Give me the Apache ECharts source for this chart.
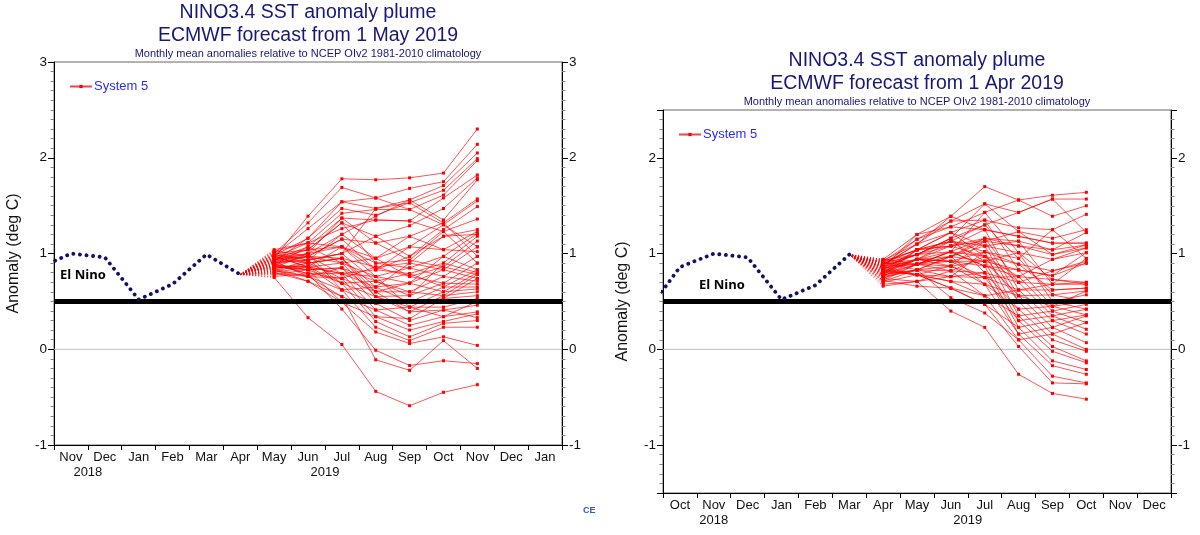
<!DOCTYPE html>
<html><head><meta charset="utf-8">
<script src="https://cdn.jsdelivr.net/npm/echarts@6/dist/echarts.min.js"></script>
<style>html,body{margin:0;padding:0;background:#fff}#c{width:1200px;height:535px}</style>
</head><body><div id="c"></div>
<script>
// ---------- DATA ----------
const leftMonths  = ['Nov','Dec','Jan','Feb','Mar','Apr','May','Jun','Jul','Aug','Sep','Oct','Nov','Dec','Jan'];
const rightMonths = ['Oct','Nov','Dec','Jan','Feb','Mar','Apr','May','Jun','Jul','Aug','Sep','Oct','Nov','Dec'];
const yTicksLeft  = [-1, 0, 1, 2, 3];
const yTicksRight = [-1, 0, 1, 2];

// observed (month index relative to first category; -1 = month before the axis)
const leftObsIdx  = [-1, 0, 1, 2, 3, 4, 5];           // Oct 2018 .. Apr 2019
const leftObs     = [0.84, 1.00, 0.96, 0.52, 0.68, 0.99, 0.78];
const rightObsIdx = [-1, 0, 1, 2, 3, 4, 5];           // Sep 2018 .. Mar 2019
const rightObs    = [0.38, 0.86, 1.00, 0.96, 0.52, 0.67, 0.99];

const leftFcStart  = 6;   // May 2019
const rightFcStart = 6;   // Apr 2019

// ensemble members, left: May..Nov 2019
const leftMembers = [
[0.95,1.39,1.78,1.77,1.79,1.84,2.30],
[1.00,1.32,1.69,1.58,1.68,1.75,2.14],
[0.98,1.26,1.54,1.47,1.56,1.71,2.05],
[0.92,1.16,1.47,1.40,1.53,1.66,1.99],
[1.04,1.11,1.42,1.46,1.46,1.61,1.97],
[0.88,1.07,1.37,1.35,1.34,1.58,1.82],
[0.96,1.04,1.32,1.18,1.29,1.47,1.79],
[0.85,1.00,1.20,1.39,1.56,1.35,1.77],
[0.90,0.97,1.15,1.11,1.18,1.32,1.57],
[1.02,1.11,1.07,0.95,1.07,1.30,1.55],
[0.82,0.93,1.00,1.18,0.97,1.25,1.49],
[0.93,1.04,1.32,0.90,0.93,1.23,1.36],
[0.99,0.90,0.95,0.86,0.90,1.18,1.25],
[0.87,0.86,1.07,0.83,1.07,1.04,1.23],
[0.94,0.97,0.90,0.76,0.85,0.97,1.21],
[0.78,0.83,0.85,0.71,0.79,0.90,1.18],
[1.01,0.93,1.20,0.95,0.76,0.86,1.13],
[0.89,0.79,0.79,0.65,0.69,0.83,1.07],
[0.84,0.76,0.74,0.60,0.60,0.76,0.97],
[0.97,0.86,0.69,0.55,0.56,0.69,0.90],
[0.91,1.00,0.62,0.48,0.49,0.65,0.83],
[0.80,0.71,0.55,0.41,0.44,0.60,0.80],
[0.95,0.90,0.95,0.60,0.39,0.56,0.78],
[0.86,0.83,0.49,0.34,0.32,0.53,0.74],
[0.75,0.33,0.05,-0.44,-0.59,-0.45,-0.37],
[0.88,0.79,0.42,-0.01,-0.17,-0.12,-0.15],
[0.92,0.76,0.55,-0.11,-0.22,0.09,-0.20],
[0.83,0.71,0.49,0.18,0.06,0.13,0.04],
[0.97,0.86,0.62,0.23,0.09,0.23,0.23],
[0.90,0.93,0.69,0.29,0.13,0.27,0.30],
[0.81,0.90,0.74,0.34,0.20,0.29,0.37],
[1.03,0.97,0.79,0.41,0.25,0.34,0.39],
[0.86,0.83,0.85,0.48,0.30,0.41,0.46],
[0.94,1.07,0.90,0.55,0.44,0.44,0.53],
[0.79,0.76,0.62,0.65,0.49,0.53,0.56],
[0.99,0.93,1.00,0.71,0.60,0.56,0.60],
[0.87,0.86,0.79,0.76,0.69,0.60,0.63],
[0.92,0.97,1.15,0.83,0.79,0.65,0.65],
[0.76,0.79,0.74,0.86,0.76,0.69,0.68],
[1.00,1.04,1.07,0.90,0.85,0.76,0.71],
[0.84,0.90,0.95,0.65,0.90,0.83,0.74],
[0.95,1.00,1.37,1.11,0.93,0.86,0.78],
[0.89,0.83,0.69,0.71,0.56,0.90,0.80],
[0.82,0.76,0.85,0.60,0.69,0.97,0.83],
[0.96,1.11,1.26,1.35,1.34,1.23,0.90],
[0.91,0.93,1.00,1.47,1.53,1.32,0.97],
[0.85,0.86,0.90,0.95,1.18,1.04,1.02],
[0.98,1.16,1.54,1.58,1.46,1.30,1.07],
[0.93,1.00,1.07,0.76,0.44,0.34,0.50],
[0.88,0.97,0.95,0.55,0.39,0.41,0.33],
[0.80,0.86,0.79,0.83,0.97,1.18,1.20]
];

// ensemble members, right: Apr..Oct 2019
const rightMembers = [
[0.88,1.10,1.39,1.70,1.56,1.61,1.64],
[0.92,1.15,1.34,1.52,1.43,1.57,1.57],
[0.85,1.20,1.28,1.43,1.56,1.39,1.50],
[0.80,1.04,1.22,1.35,1.27,1.25,1.41],
[0.90,0.99,1.16,1.52,1.23,1.16,1.25],
[0.76,0.94,1.13,1.30,1.43,1.57,1.22],
[0.83,1.04,1.08,1.25,1.18,1.11,1.11],
[0.94,0.89,1.02,1.16,1.13,1.04,1.09],
[0.71,0.83,0.97,1.13,1.08,0.99,1.06],
[0.86,0.99,1.13,1.08,1.01,0.94,1.01],
[0.79,0.94,0.92,1.02,0.95,1.25,0.95],
[0.88,1.10,1.22,0.97,0.89,0.82,0.92],
[0.82,0.78,0.87,0.92,0.83,0.77,0.90],
[0.74,0.89,1.02,0.87,0.76,0.73,0.70],
[0.91,0.83,0.82,0.80,0.70,0.68,0.68],
[0.68,0.71,0.76,0.75,0.62,0.62,0.64],
[0.84,0.94,0.97,0.68,0.56,0.57,0.61],
[0.77,1.04,1.08,0.97,0.50,0.50,0.57],
[0.93,0.99,1.16,0.80,0.42,0.45,0.50],
[0.81,0.78,0.71,0.56,0.35,0.40,0.47],
[0.87,0.89,0.92,0.75,0.30,0.35,0.42],
[0.72,0.66,0.64,0.47,0.23,0.30,0.36],
[0.89,0.94,0.87,0.68,0.16,0.23,0.35],
[0.78,0.83,0.54,0.38,0.10,0.16,0.28],
[0.66,0.71,0.40,0.23,-0.26,-0.46,-0.52],
[0.84,0.78,0.64,0.47,0.03,-0.35,-0.36],
[0.90,0.89,0.82,0.56,0.10,-0.28,-0.35],
[0.75,0.83,0.76,0.80,0.16,-0.17,-0.26],
[0.86,0.99,1.02,0.87,0.23,-0.12,-0.21],
[0.80,0.94,0.92,0.92,0.30,-0.02,-0.14],
[0.92,1.04,1.13,1.02,0.35,0.03,-0.12],
[0.70,0.78,0.71,0.68,0.42,0.10,-0.02],
[0.85,0.89,0.97,1.08,0.50,0.16,0.00],
[0.78,0.83,0.87,1.13,0.56,0.23,0.07],
[0.88,1.15,1.28,1.25,0.62,0.30,0.16],
[0.82,0.94,1.08,1.16,0.70,0.35,0.21],
[0.74,0.71,0.82,0.97,0.76,0.40,0.28],
[0.93,1.10,1.34,1.35,0.83,0.45,0.36],
[0.79,0.89,1.02,1.43,1.01,0.50,0.42],
[0.87,0.99,1.16,1.30,0.95,0.57,0.50],
[0.83,0.78,0.76,1.02,0.89,0.62,0.64],
[0.90,1.04,1.22,1.08,1.13,0.68,0.70],
[0.76,0.83,0.97,0.92,1.01,0.73,0.68],
[0.85,0.94,0.92,0.87,0.83,0.77,1.01],
[0.89,0.99,1.08,1.13,1.23,0.99,1.09],
[0.72,0.89,0.87,0.75,0.76,0.94,1.06],
[0.94,1.20,1.39,1.25,1.18,1.11,1.11],
[0.81,0.94,1.02,0.97,0.70,0.82,0.90],
[0.86,0.78,0.64,0.56,0.62,0.68,0.95],
[0.77,0.89,0.97,1.16,1.08,1.04,1.22],
[0.91,1.04,1.13,0.92,0.56,0.45,0.61]
];

const elNinoThreshold = 0.5;

// ---------- LAYOUT / STYLE ----------
const FONT = 'Liberation Sans, Arial, sans-serif';
const NAVY = '#17177a';
const panels = [
  {left:54,  top:62,  w:508, h:383, ymin:-1,   ymax:3,   months:leftMonths,  obsIdx:leftObsIdx,  obs:leftObs,  fc:leftFcStart,  members:leftMembers,
   title2:'ECMWF forecast from 1 May 2019', years:[['2018',1],['2019',8]], elnino:[6,0.77]},
  {left:663, top:110, w:508, h:383, ymin:-1.5, ymax:2.5, months:rightMonths, obsIdx:rightObsIdx, obs:rightObs, fc:rightFcStart, members:rightMembers,
   title2:'ECMWF forecast from 1 Apr 2019', years:[['2018',1.5],['2019',9]], elnino:[36,0.67]}
];
const NM = 15;

const grids = [], xAxes = [], yAxes = [], series = [], graphics = [], legends = [];
panels.forEach((p, k) => {
  grids.push({left:p.left, top:p.top, width:p.w, height:p.h, show:true, borderColor:'#666', borderWidth:1, backgroundColor:'#fff'});
  // hidden value axis for positioning
  xAxes.push({type:'value', gridIndex:k, min:0, max:NM, show:false});
  // visible category axis for month labels/ticks
  xAxes.push({type:'category', gridIndex:k, data:p.months, position:'bottom', boundaryGap:true,
    axisLine:{onZero:false, lineStyle:{color:'#000', width:1}},
    axisTick:{show:true, inside:false, length:5, interval:0, lineStyle:{color:'#000'}},
    axisLabel:{interval:0, margin:6, color:'#111', fontSize:13, fontFamily:FONT},
    splitLine:{show:false}});
  const yCommon = {type:'value', gridIndex:k, min:p.ymin, max:p.ymax, splitNumber:4,
    axisLine:{show:true, onZero:false, lineStyle:{color:'#000'}},
    axisTick:{show:true, inside:false, length:6, lineStyle:{color:'#000'}},
    minorTick:{show:true, splitNumber:10, length:3.5, lineStyle:{color:'#888'}},
    axisLabel:{color:'#111', fontSize:13.5, fontFamily:FONT, margin:7,
      formatter: v => (Math.abs(v - Math.round(v)) < 1e-6 ? String(Math.round(v)) : '')},
    splitLine:{show:false}};
  if (k === 0) yCommon.interval = 1;
  yAxes.push(Object.assign({}, yCommon, {position:'left', name:'Anomaly (deg C)', nameLocation:'middle', nameGap:32,
    nameRotate:90, nameTextStyle:{fontSize:16, color:'#111', fontFamily:FONT}}));
  yAxes.push(Object.assign({}, yCommon, {position:'right'}));

  const xi = k*2, yi = k*2;
  // zero line
  series.push({type:'line', xAxisIndex:xi, yAxisIndex:yi, data:[[0,0],[NM,0]], symbol:'none', silent:true, z:1,
    lineStyle:{color:'#bdbdbd', width:1}});
  // ensemble forecasts
  p.members.forEach(m => {
    series.push({name:'System 5', type:'line', xAxisIndex:xi, yAxisIndex:yi,
      data:m.map((v,j)=>[p.fc+j+0.5, v]), symbol:'rect', symbolSize:3, showSymbol:true, silent:true, z:2,
      itemStyle:{color:'#ff0000'}, lineStyle:{color:'rgba(255,0,0,0.75)', width:0.9}});
  });
  const lastX = p.obsIdx[p.obsIdx.length-1] + 0.5, lastV = p.obs[p.obs.length-1];
  p.members.forEach(m => {
    series.push({name:'System 5', type:'line', xAxisIndex:xi, yAxisIndex:yi,
      data:[[lastX,lastV],[p.fc+0.5, m[0]]], symbol:'none', silent:true, z:2,
      lineStyle:{color:'rgba(255,0,0,0.8)', width:1, type:[1,2]}});
  });
  // El Nino threshold
  series.push({type:'line', xAxisIndex:xi, yAxisIndex:yi, data:[[0,elNinoThreshold],[NM,elNinoThreshold]], symbol:'none', silent:true, z:3,
    lineStyle:{color:'#000', width:5}});
  // observed
  series.push({type:'line', xAxisIndex:xi, yAxisIndex:yi, data:p.obsIdx.map((m,i)=>[m+0.5, p.obs[i]]), symbol:'none', silent:true, z:4, clip:true,
    lineStyle:{color:'#111166', width:3.8, type:[0.1,6.5], cap:'round'}});

  // titles
  const cx = p.left + p.w/2, t0 = p.top - 62;
  graphics.push({type:'text', x:cx, y:t0+13, style:{text:'NINO3.4 SST anomaly plume', font:'19.5px '+FONT, fill:NAVY, textAlign:'center', textVerticalAlign:'middle'}});
  graphics.push({type:'text', x:cx, y:t0+36, style:{text:p.title2, font:'19.5px '+FONT, fill:NAVY, textAlign:'center', textVerticalAlign:'middle'}});
  graphics.push({type:'text', x:cx, y:t0+54, style:{text:'Monthly mean anomalies relative to NCEP OIv2 1981-2010 climatology', font:'11px '+FONT, fill:NAVY, textAlign:'center', textVerticalAlign:'middle'}});
  // year labels
  p.years.forEach(([txt, xv]) => {
    graphics.push({type:'text', x:p.left + xv/NM*p.w, y:p.top+p.h+27, style:{text:txt, font:'13px '+FONT, fill:'#111', textAlign:'center', textVerticalAlign:'middle'}});
  });
  // El Nino label
  graphics.push({type:'text', x:p.left + p.elnino[0], y:p.top + (p.ymax - p.elnino[1])/(p.ymax-p.ymin)*p.h, z:10,
    style:{text:'El Nino', font:'bold 13px "Open Sans", "DejaVu Sans", sans-serif', fill:'#000', textAlign:'left', textVerticalAlign:'middle'}});
  // legend
  legends.push({data:['System 5'], left:p.left+10, top:p.top+13, itemWidth:22, itemHeight:4, itemGap:4,
    textStyle:{color:'#2a2aff', fontSize:13, fontFamily:FONT, padding:[0,0,0,-3]}, selectedMode:false});
});
graphics.push({type:'text', x:583, y:511, style:{text:'CE', font:'bold 9px '+FONT, fill:'#3355cc', textAlign:'left', textVerticalAlign:'middle'}});

const chart = echarts.init(document.getElementById('c'), null, {renderer:'canvas'});
chart.setOption({
  animation:false,
  backgroundColor:'#fff',
  grid:grids, xAxis:xAxes, yAxis:yAxes, series:series, legend:legends, graphic:graphics,
  tooltip:{show:false}
});
</script></body></html>
